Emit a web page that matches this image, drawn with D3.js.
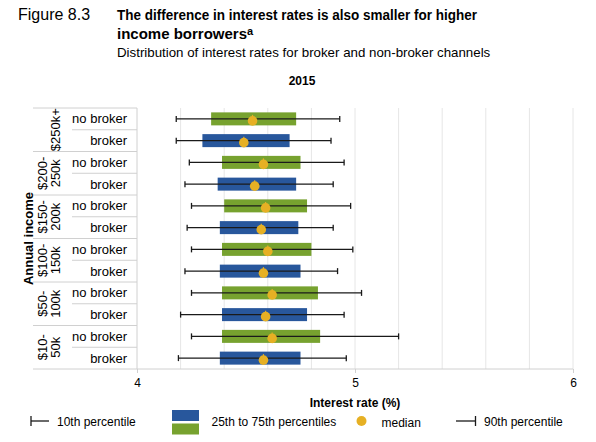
<!DOCTYPE html>
<html>
<head>
<meta charset="utf-8">
<script src="https://cdn.jsdelivr.net/npm/d3@7"></script>
<style>
  body { margin: 0; background: #fff; }
  text { font-family: 'Liberation Sans', Arial, sans-serif; fill: #000; }
</style>
</head>
<body>
<div id="chart"></div>
<script>
// income groups (top to bottom), each label split in lines
var incomeGroups = [['$250k+'], ['$200-', '250k'], ['$150-', '200k'], ['$100-', '150k'], ['$50-', '100k'], ['$10-', '50k']];
var channels = ['no broker', 'broker'];
// percentiles per row, rows ordered group by group, no broker then broker
var p10 = [4.18, 4.18, 4.24, 4.22, 4.25, 4.23, 4.25, 4.22, 4.25, 4.20, 4.25, 4.19];
var p25 = [4.34, 4.30, 4.39, 4.37, 4.40, 4.38, 4.39, 4.38, 4.39, 4.39, 4.39, 4.38];
var p50 = [4.53, 4.49, 4.58, 4.54, 4.59, 4.57, 4.60, 4.58, 4.62, 4.59, 4.62, 4.58];
var p75 = [4.73, 4.70, 4.75, 4.73, 4.78, 4.74, 4.80, 4.75, 4.83, 4.78, 4.84, 4.75];
var p90 = [4.93, 4.89, 4.95, 4.90, 4.98, 4.90, 4.99, 4.92, 5.03, 4.95, 5.20, 4.96];
var xTicks = [4, 5, 6];

var GREEN = '#77a22f';
var BLUE = '#28579c';
var GOLD = '#e6b024';
var LINE = '#d0d0d0';

function drawChart () {
  var svg = d3.select('#chart').append('svg')
    .attr('width', 596)
    .attr('height', 442);

  // header
  svg.append('text').attr('x', 18).attr('y', 20).style('font-size', '16px').text('Figure 8.3');
  svg.append('text').attr('x', 117).attr('y', 20).style('font-size', '15px').style('font-weight', 'bold')
    .attr('textLength', 360).attr('lengthAdjust', 'spacingAndGlyphs')
    .text('The difference in interest rates is also smaller for higher');
  var t2 = svg.append('text').attr('x', 117).attr('y', 39).style('font-size', '15px').style('font-weight', 'bold');
  t2.append('tspan').text('income borrowers');
  t2.append('tspan').attr('dy', -4).style('font-size', '11px').text('a');
  svg.append('text').attr('x', 117).attr('y', 57).style('font-size', '13.3px')
    .text('Distribution of interest rates for broker and non-broker channels');
  svg.append('text').attr('x', 302).attr('y', 85).attr('text-anchor', 'middle')
    .style('font-size', '12px').style('font-weight', 'bold').text('2015');

  var left = 137, right = 573, top = 108, bottom = 369;
  var rows = d3.range(incomeGroups.length * channels.length);
  var x = d3.scaleLinear().domain([4, 6]).range([left, right]);
  var y = d3.scaleBand().domain(rows).range([top, bottom]);
  var bw = y.bandwidth();

  // gridlines every 0.2
  svg.append('g').selectAll('line')
    .data(d3.range(4.2, 6.01, 0.2))
    .enter().append('line')
    .attr('x1', function (d) { return x(d); })
    .attr('x2', function (d) { return x(d); })
    .attr('y1', top).attr('y2', bottom)
    .attr('stroke', '#e6e6e6').attr('stroke-width', 1);

  // left table lines
  var table = svg.append('g').attr('stroke', LINE).attr('stroke-width', 1);
  incomeGroups.forEach(function (g, i) {
    var gy = y(i * 2);
    table.append('line').attr('x1', 33).attr('x2', left).attr('y1', gy).attr('y2', gy);
    table.append('line').attr('x1', 72).attr('x2', left).attr('y1', gy + bw).attr('y2', gy + bw);
  });

  // x axis
  var xAxis = d3.axisBottom(x).tickValues(xTicks).tickSize(4).tickPadding(5).tickFormat(d3.format('d'));
  var ax = svg.append('g').attr('transform', 'translate(0,' + bottom + ')').call(xAxis);
  ax.select('.domain').remove();
  ax.selectAll('.tick line').attr('stroke', LINE);
  ax.selectAll('.tick text').style('font-size', '12px').style('font-family', "'Liberation Sans', Arial, sans-serif").attr('fill', '#000');
  svg.append('line').attr('x1', 33).attr('x2', right).attr('y1', bottom).attr('y2', bottom).attr('stroke', LINE);
  svg.append('line').attr('x1', left).attr('x2', left).attr('y1', top).attr('y2', bottom).attr('stroke', LINE);

  svg.append('text').attr('x', x(5)).attr('y', 407).attr('text-anchor', 'middle')
    .style('font-size', '12px').style('font-weight', 'bold').text('Interest rate (%)');

  // row labels
  svg.append('g').selectAll('text')
    .data(rows)
    .enter().append('text')
    .attr('x', 127)
    .attr('y', function (d) { return y(d) + bw / 2 + 4.5; })
    .attr('text-anchor', 'end')
    .style('font-size', '13px')
    .text(function (d) { return channels[d % 2]; });

  // income group labels, rotated
  incomeGroups.forEach(function (g, i) {
    var cy = y(i * 2) + bw;
    var lastX = 60;
    g.forEach(function (line, j) {
      var bx = lastX - (g.length - 1 - j) * 13.5;
      svg.append('text')
        .attr('transform', 'translate(' + bx + ',' + cy + ') rotate(-90)')
        .attr('text-anchor', 'middle')
        .style('font-size', '13px')
        .text(line);
    });
  });
  svg.append('text')
    .attr('transform', 'translate(33,' + ((top + bottom) / 2) + ') rotate(-90)')
    .attr('text-anchor', 'middle')
    .style('font-size', '13px').style('font-weight', 'bold')
    .text('Annual income');

  // boxes
  var bh = 13;
  var marks = svg.append('g');
  marks.selectAll('rect')
    .data(rows)
    .enter().append('rect')
    .attr('x', function (d) { return x(p25[d]); })
    .attr('width', function (d) { return x(p75[d]) - x(p25[d]); })
    .attr('y', function (d) { return y(d) + bw / 2 - bh / 2; })
    .attr('height', bh)
    .attr('fill', function (d) { return d % 2 === 0 ? GREEN : BLUE; });

  // whiskers
  marks.selectAll('line.whisk')
    .data(rows)
    .enter().append('line')
    .attr('class', 'whisk')
    .attr('x1', function (d) { return x(p10[d]); })
    .attr('x2', function (d) { return x(p90[d]); })
    .attr('y1', function (d) { return y(d) + bw / 2; })
    .attr('y2', function (d) { return y(d) + bw / 2; })
    .attr('stroke', '#1a1a1a').attr('stroke-width', 1.3);
  [p10, p90].forEach(function (arr) {
    marks.append('g').selectAll('line')
      .data(rows)
      .enter().append('line')
      .attr('x1', function (d) { return x(arr[d]); })
      .attr('x2', function (d) { return x(arr[d]); })
      .attr('y1', function (d) { return y(d) + bw / 2 - 3; })
      .attr('y2', function (d) { return y(d) + bw / 2 + 3; })
      .attr('stroke', '#1a1a1a').attr('stroke-width', 1.3);
  });

  // medians
  marks.append('g').selectAll('line')
    .data(rows)
    .enter().append('line')
    .attr('x1', function (d) { return x(p50[d]); })
    .attr('x2', function (d) { return x(p50[d]); })
    .attr('y1', function (d) { return y(d) + bw / 2 - 4; })
    .attr('y2', function (d) { return y(d) + bw / 2 + 2; })
    .attr('stroke', GOLD).attr('stroke-width', 1.2);
  marks.append('g').selectAll('circle')
    .data(rows)
    .enter().append('circle')
    .attr('cx', function (d) { return x(p50[d]); })
    .attr('cy', function (d) { return y(d) + bw / 2 + 2; })
    .attr('r', 4.8)
    .attr('fill', GOLD);

  // legend
  var lg = svg.append('g');
  var ly = 421;
  lg.append('line').attr('x1', 31).attr('x2', 49).attr('y1', ly).attr('y2', ly).attr('stroke', '#1a1a1a').attr('stroke-width', 1.3);
  lg.append('line').attr('x1', 31).attr('x2', 31).attr('y1', ly - 5).attr('y2', ly + 5).attr('stroke', '#1a1a1a').attr('stroke-width', 1.3);
  lg.append('text').attr('x', 57).attr('y', ly + 4.5).style('font-size', '12px').text('10th percentile');
  lg.append('rect').attr('x', 172).attr('y', 410).attr('width', 27).attr('height', 11).attr('fill', BLUE);
  lg.append('rect').attr('x', 172).attr('y', 423.5).attr('width', 27).attr('height', 11).attr('fill', GREEN);
  lg.append('text').attr('x', 211.5).attr('y', ly + 4.5).style('font-size', '12px').text('25th to 75th percentiles');
  lg.append('circle').attr('cx', 361.5).attr('cy', ly).attr('r', 5).attr('fill', GOLD);
  lg.append('text').attr('x', 381.5).attr('y', ly + 5.5).style('font-size', '12px').text('median');
  lg.append('line').attr('x1', 456).attr('x2', 475.5).attr('y1', ly).attr('y2', ly).attr('stroke', '#1a1a1a').attr('stroke-width', 1.3);
  lg.append('line').attr('x1', 475.5).attr('x2', 475.5).attr('y1', ly - 5).attr('y2', ly + 5).attr('stroke', '#1a1a1a').attr('stroke-width', 1.3);
  lg.append('text').attr('x', 484).attr('y', ly + 4.5).style('font-size', '12px').text('90th percentile');
}

drawChart();
</script>
</body>
</html>
